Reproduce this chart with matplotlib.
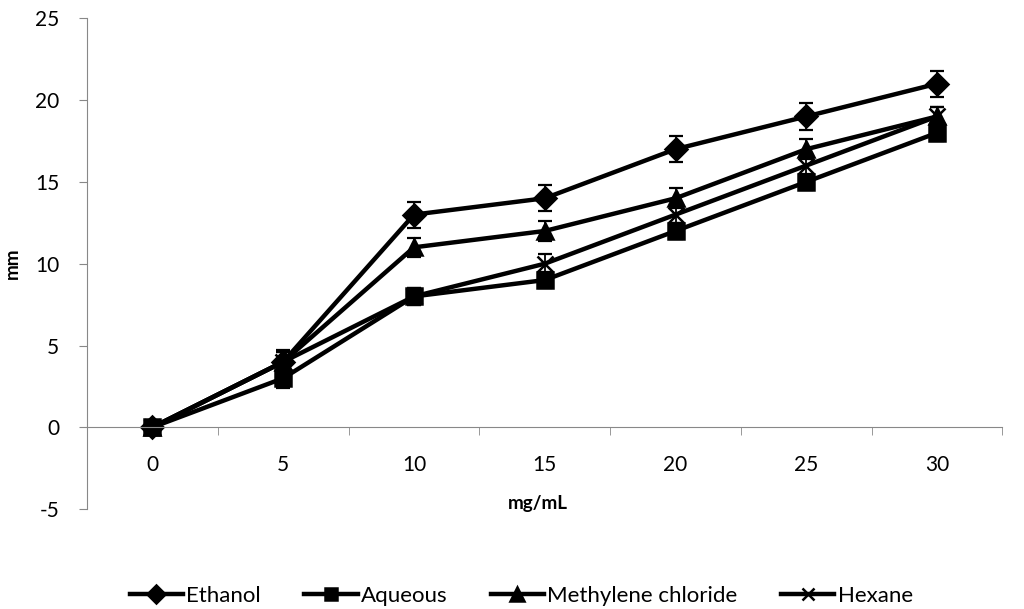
import numpy as np
import matplotlib.pyplot as plt
from matplotlib.ticker import FixedLocator

plt.rcParams['font.family'] = ['Lato', 'DejaVu Sans']
plt.rcParams['axes.unicode_minus'] = False

# Concentraciones (eje x) y zonas de inhibición en mm
concentraciones = ['0', '5', '10', '15', '20', '25', '30']
etanol = [0, 4, 13, 14, 17, 19, 21]
acuoso = [0, 3, 8, 9, 12, 15, 18]
cloruro_metileno = [0, 4, 11, 12, 14, 17, 19]
hexano = [0, 4, 8, 10, 13, 16, 19]
error_etanol = [0.4, 0.7, 0.8, 0.8, 0.8, 0.8, 0.8]
error_acuoso = [0.4, 0.6, 0.5, 0.5, 0.5, 0.5, 0.5]
error_cloruro = [0.4, 0.6, 0.6, 0.6, 0.6, 0.6, 0.6]
error_hexano = [0.4, 0.6, 0.5, 0.6, 0.5, 0.6, 0.6]

series = [
    ('Ethanol', etanol, error_etanol, 'D', 11),
    ('Aqueous', acuoso, error_acuoso, 's', 11),
    ('Methylene chloride', cloruro_metileno, error_cloruro, '^', 12),
    ('Hexane', hexano, error_hexano, 'x', 11),
]

fig = plt.figure(figsize=(10.24, 6.09), dpi=100)
ax = fig.add_axes([0.085, 0.164, 0.894, 0.806])

x = np.arange(len(concentraciones))
for nombre, valores, errores, marcador, tam in series:
    # Barras de error sin etiqueta para que no salgan en la leyenda
    ax.errorbar(x, valores, yerr=errores, fmt='none', ecolor='black',
                elinewidth=1.3, capsize=5, capthick=1.6)
    ax.plot(x, valores, color='black', linewidth=3.2, marker=marcador,
            markersize=tam, markeredgewidth=1.8, label=nombre)

ax.set_xlim(-0.5, len(concentraciones) - 0.5)
ax.set_ylim(-5, 25)
ax.set_yticks([-5, 0, 5, 10, 15, 20, 25])
ax.set_xticks(x)
ax.set_xticklabels(concentraciones)
ax.xaxis.set_minor_locator(FixedLocator(np.arange(-0.5, len(concentraciones), 1)))

# Estilo tipo Excel: eje x en y=0, solo eje izquierdo
ax.spines['top'].set_visible(False)
ax.spines['right'].set_visible(False)
ax.spines['bottom'].set_position(('data', 0))
ax.spines['left'].set_color('#888888')
ax.spines['bottom'].set_color('#888888')
ax.tick_params(axis='y', direction='out', length=6, color='#888888',
               labelsize=15, pad=14)
ax.tick_params(axis='x', which='major', length=0, labelsize=15, pad=20)
ax.tick_params(axis='x', which='minor', direction='out', length=6, color='#888888')

ax.set_ylabel('mm', fontsize=13.5, fontweight='bold', labelpad=10)
fig.text(0.525, 1 - 503 / 609, 'mg/mL', fontsize=13.5, fontweight='bold',
         ha='center', va='center')

ax.legend(loc='center', bbox_to_anchor=(0.509, 1 - 596 / 609), bbox_transform=fig.transFigure,
          ncol=4, frameon=False, fontsize=16, handlelength=2.4, columnspacing=1.95,
          handletextpad=0.15, borderpad=0, markerscale=0.8)

fig.savefig('out.png', dpi=100)
